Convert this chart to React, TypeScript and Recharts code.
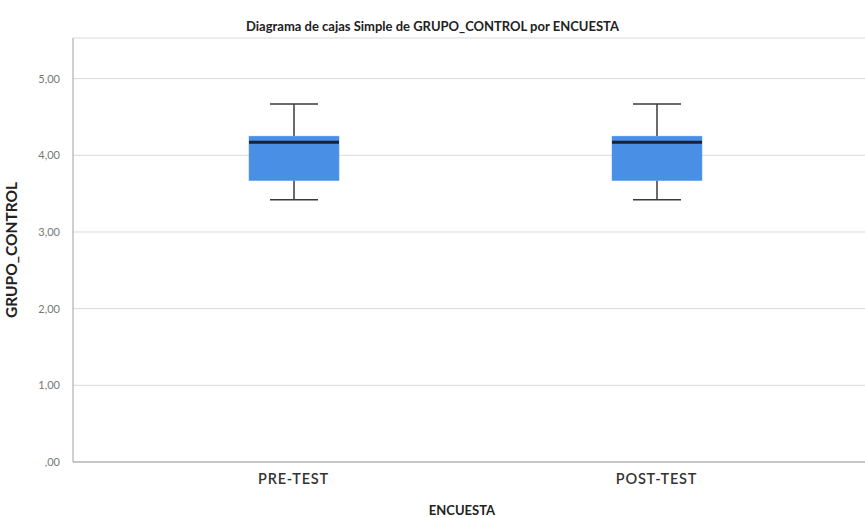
import { Bar, CartesianGrid, ComposedChart, XAxis, YAxis } from "recharts"

const groups = ["PRE-TEST", "POST-TEST"]
const whiskerLow = [3.42, 3.42]
const q1 = [3.67, 3.67]
const medians = [4.17, 4.17]
const q3 = [4.25, 4.25]
const whiskerHigh = [4.67, 4.67]
const yTicks = [0, 1, 2, 3, 4, 5]

const data = groups.map((g, i) => ({
  group: g,
  box: [q1[i], q3[i]],
  lo: whiskerLow[i],
  q1: q1[i],
  med: medians[i],
  q3: q3[i],
  hi: whiskerHigh[i],
}))

const font = "Lato, 'Open Sans', sans-serif"

const fmt = (v: number) => (v === 0 ? ",00" : v.toFixed(2).replace(".", ","))

function BoxShape(props: any) {
  const { x, y, width, height, payload } = props
  const p = payload
  const ppu = height / (p.q3 - p.q1)
  const toY = (v: number) => y + (p.q3 - v) * ppu
  const cx = x + width / 2
  const cap = 48
  return (
    <g>
      <line x1={cx} x2={cx} y1={toY(p.hi)} y2={y} stroke="#3a3a3a" strokeWidth={1.5} />
      <line x1={cx} x2={cx} y1={y + height} y2={toY(p.lo)} stroke="#3a3a3a" strokeWidth={1.5} />
      <line x1={cx - cap / 2} x2={cx + cap / 2} y1={toY(p.hi)} y2={toY(p.hi)} stroke="#3a3a3a" strokeWidth={1.5} />
      <line x1={cx - cap / 2} x2={cx + cap / 2} y1={toY(p.lo)} y2={toY(p.lo)} stroke="#3a3a3a" strokeWidth={1.5} />
      <rect x={x} y={y} width={width} height={height} fill="#4a8fe6" stroke="#5a9cf0" strokeWidth={0.5} />
      <line x1={x} x2={x + width} y1={toY(p.med)} y2={toY(p.med)} stroke="#16223a" strokeWidth={3} />
    </g>
  )
}

export default function App() {
  return (
    <div style={{ position: "fixed", left: 0, top: 0, width: 865, height: 518, background: "#fff", fontFamily: font }}>
      <div
        style={{
          position: "absolute",
          top: 18,
          width: 865,
          textAlign: "center",
          fontSize: 13,
          fontWeight: 700,
          color: "#222",
          left: 0,
        }}
      >
        Diagrama de cajas Simple de GRUPO_CONTROL por ENCUESTA
      </div>
      <ComposedChart
        width={865}
        height={518}
        data={data}
        margin={{ top: 38, right: 0, left: 0, bottom: 0 }}
        barSize={90}
      >
        <CartesianGrid vertical={false} stroke="#d9d9d9" />
        <XAxis
          dataKey="group"
          height={56}
          padding={{ left: 39, right: 27 }}
          tickLine={false}
          stroke="#a0a0a0"
          tick={{ fontSize: 14.5, fontWeight: 600, fill: "#333", fontFamily: font, letterSpacing: 0.8 }}
          tickMargin={6}
          label={{
            value: "ENCUESTA",
            position: "insideBottom",
            offset: 3,
            dx: -7,
            style: { fontSize: 13, fontWeight: 700, fill: "#222", fontFamily: font },
          }}
        />
        <YAxis
          width={73}
          domain={[0, 5.53]}
          ticks={yTicks}
          tickFormatter={fmt}
          tickLine={false}
          stroke="#a0a0a0"
          tickMargin={7}
          tick={{ fontSize: 11, fill: "#777", fontFamily: font }}
          label={{
            value: "GRUPO_CONTROL",
            angle: -90,
            position: "insideLeft",
            offset: 11,
            style: { textAnchor: "middle", fontSize: 15.5, fontWeight: 700, fill: "#222", fontFamily: font },
          }}
        />
        <Bar dataKey="box" shape={<BoxShape />} isAnimationActive={false} />
      </ComposedChart>
    </div>
  )
}
